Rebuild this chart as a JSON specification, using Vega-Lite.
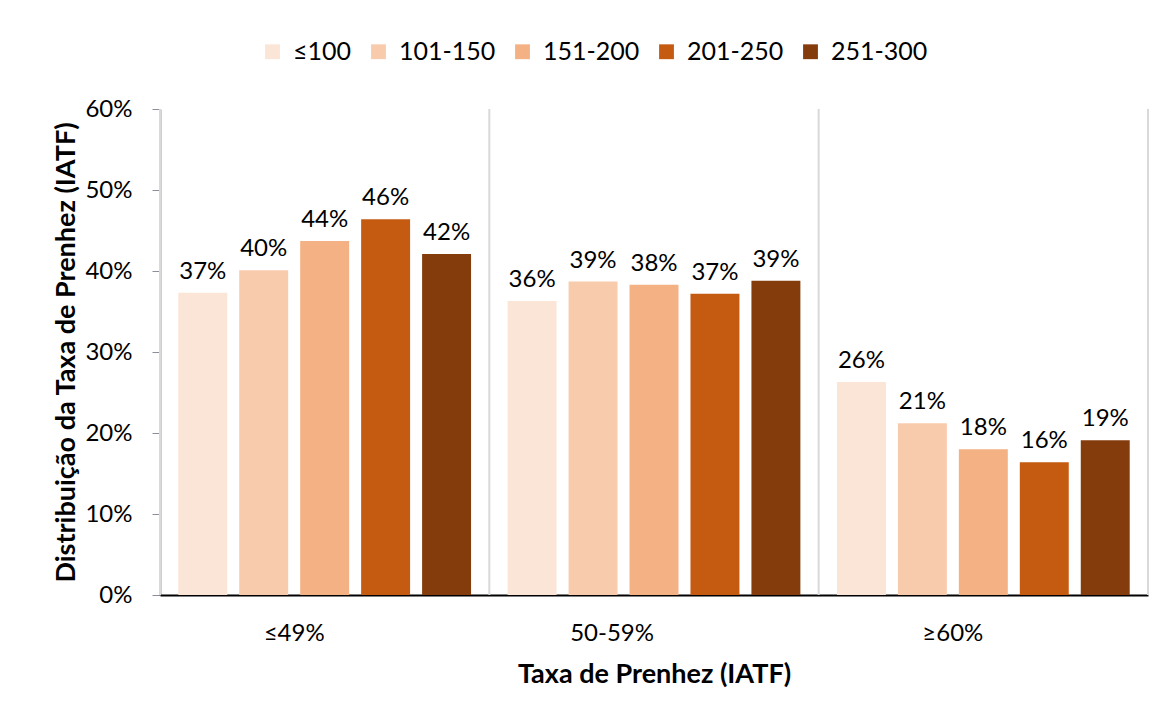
{
  "$schema": "https://vega.github.io/schema/vega-lite/v6.json",
  "width": 988,
  "height": 486,
  "padding": {"left": 52, "top": 39, "right": 14, "bottom": 10},
  "background": "white",
  "config": {"view": {"stroke": null}, "font": "Lato", "text": {"font": "Lato"}},
  "data": {
    "values": [
      {"grp": "≤49%", "cat": "≤100", "val": 0.373},
      {"grp": "≤49%", "cat": "101-150", "val": 0.401},
      {"grp": "≤49%", "cat": "151-200", "val": 0.437},
      {"grp": "≤49%", "cat": "201-250", "val": 0.464},
      {"grp": "≤49%", "cat": "251-300", "val": 0.421},
      {"grp": "50-59%", "cat": "≤100", "val": 0.363},
      {"grp": "50-59%", "cat": "101-150", "val": 0.387},
      {"grp": "50-59%", "cat": "151-200", "val": 0.383},
      {"grp": "50-59%", "cat": "201-250", "val": 0.372},
      {"grp": "50-59%", "cat": "251-300", "val": 0.388},
      {"grp": "≥60%", "cat": "≤100", "val": 0.263},
      {"grp": "≥60%", "cat": "101-150", "val": 0.212},
      {"grp": "≥60%", "cat": "151-200", "val": 0.180},
      {"grp": "≥60%", "cat": "201-250", "val": 0.164},
      {"grp": "≥60%", "cat": "251-300", "val": 0.191}
    ]
  },
  "layer": [
    {
      "data": {"values": [{"grp": "≤49%"}, {"grp": "50-59%"}, {"grp": "≥60%"}]},
      "mark": {"type": "rule", "color": "#d9d9d9", "strokeWidth": 2},
      "encoding": {
        "x": {"field": "grp", "type": "nominal", "bandPosition": 0,
              "scale": {"domain": ["≤49%", "50-59%", "≥60%"], "paddingInner": 0, "paddingOuter": 0}}
      }
    },
    {
      "data": {"values": [{"grp": "≥60%"}]},
      "mark": {"type": "rule", "color": "#d9d9d9", "strokeWidth": 2},
      "encoding": {
        "x": {"field": "grp", "type": "nominal", "bandPosition": 1,
              "scale": {"domain": ["≤49%", "50-59%", "≥60%"], "paddingInner": 0, "paddingOuter": 0}}
      }
    },
    {
      "mark": {"type": "bar"},
      "encoding": {
        "x": {"field": "grp", "type": "nominal",
              "scale": {"domain": ["≤49%", "50-59%", "≥60%"], "paddingInner": 0, "paddingOuter": 0},
              "axis": {"title": "Taxa de Prenhez (IATF)", "labelAngle": 0, "labelFontSize": 24, "labelColor": "#000000",
                       "labelPadding": 38, "ticks": false, "domainColor": "#000000", "domainWidth": 2,
                       "titleFontSize": 27, "titleFontWeight": "bold", "titleColor": "#000000", "titlePadding": 16}},
        "xOffset": {"field": "cat", "type": "nominal",
                    "scale": {"domain": ["≤100", "101-150", "151-200", "201-250", "251-300"], "paddingInner": 0.197, "paddingOuter": 0.3}},
        "y": {"field": "val", "type": "quantitative",
              "scale": {"domain": [0, 0.6]},
              "axis": {"title": "Distribuição da Taxa de Prenhez (IATF)", "values": [0, 0.1, 0.2, 0.3, 0.4, 0.5, 0.6],
                       "format": ".0%", "grid": false, "labelFontSize": 24, "labelColor": "#000000", "labelPadding": 20,
                       "tickSize": 8, "tickColor": "#8a8f99", "domainColor": "#3a3f4b", "domainWidth": 1.5,
                       "titleFontSize": 27, "titleFontWeight": "bold", "titleColor": "#000000", "titlePadding": 4}},
        "color": {"field": "cat", "type": "nominal",
                  "scale": {"domain": ["≤100", "101-150", "151-200", "201-250", "251-300"],
                            "range": ["#FBE5D6", "#F8CBAD", "#F4B183", "#C55A11", "#843C0C"]},
                  "legend": {"title": null, "orient": "none", "legendX": 100, "legendY": -70, "direction": "horizontal",
                             "symbolType": "square", "symbolSize": 220, "symbolStrokeWidth": 0, "symbolOpacity": 1,
                             "labelFontSize": 25, "labelColor": "#000000", "columnPadding": 14, "labelOffset": 8}}
      }
    },
    {
      "mark": {"type": "text", "baseline": "alphabetic", "dy": -14, "fontSize": 24, "color": "#000000"},
      "encoding": {
        "x": {"field": "grp", "type": "nominal",
              "scale": {"domain": ["≤49%", "50-59%", "≥60%"], "paddingInner": 0, "paddingOuter": 0}},
        "xOffset": {"field": "cat", "type": "nominal",
                    "scale": {"domain": ["≤100", "101-150", "151-200", "201-250", "251-300"], "paddingInner": 0.197, "paddingOuter": 0.3}},
        "y": {"field": "val", "type": "quantitative"},
        "text": {"field": "val", "type": "quantitative", "format": ".0%"}
      }
    }
  ]
}
